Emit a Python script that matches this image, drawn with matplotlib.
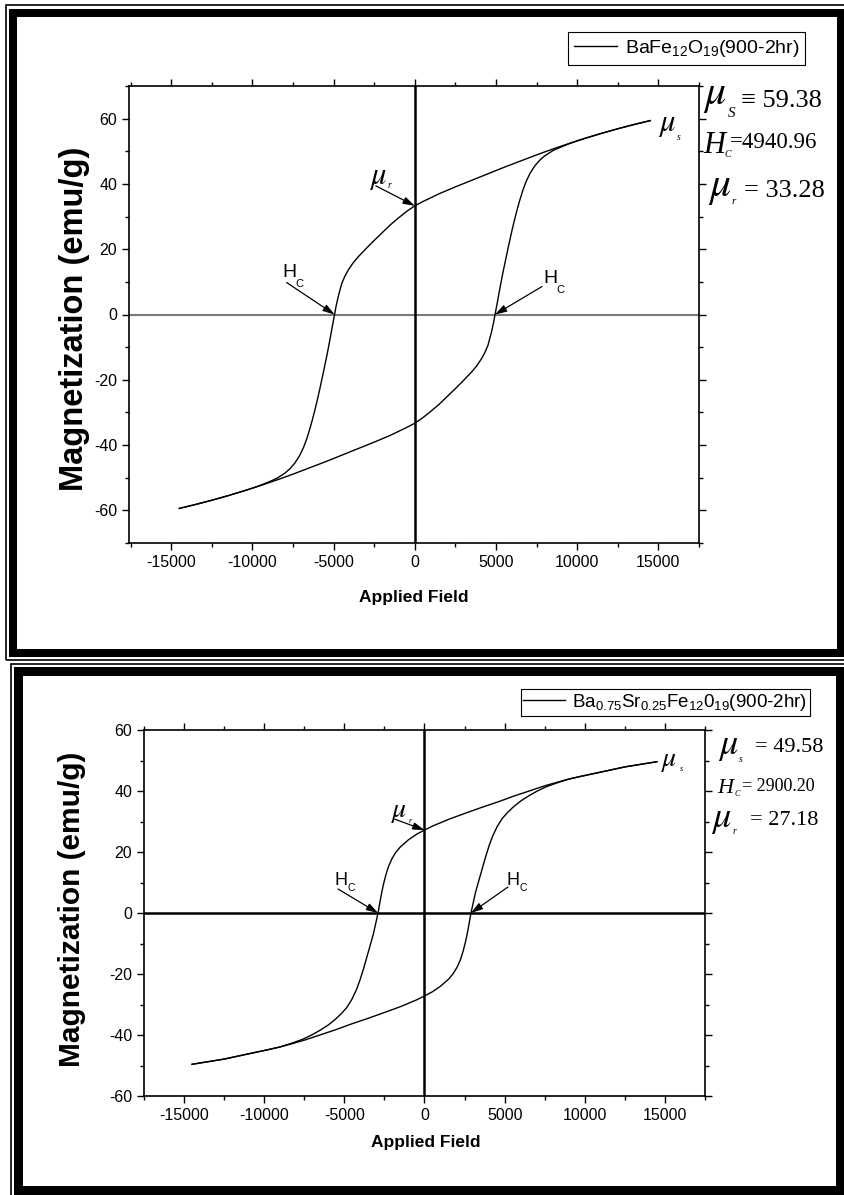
import matplotlib
matplotlib.use("Agg")
import matplotlib.pyplot as plt
from matplotlib.patches import Rectangle
from matplotlib.ticker import MultipleLocator

W, H = 845, 1195

# ---------------- data ----------------
# Panel 1: BaFe12O19 (900-2hr)  -- descending (upper) branch
top_field_desc = [14500, 13500, 12500, 11500, 10500, 9500, 8500, 7500, 6500, 5500,
                  4500, 3500, 2500, 1500, 500, 0, -500, -1000, -1500, -2000,
                  -2500, -3000, -3500, -3800, -4100, -4300, -4500, -4700, -4850, -4941,
                  -5100, -5250, -5400, -5550, -5700, -5850, -6000, -6150, -6300, -6450,
                  -6650, -6850, -7100, -7400, -7700, -8000, -8500, -9000, -9500, -10000,
                  -10500, -11500, -12500, -13500, -14500]
top_mag_desc = [59.4, 58.2, 56.9, 55.5, 54.0, 52.4, 50.7, 48.9, 47.0, 45.1,
                43.1, 41.1, 39.1, 37.0, 34.6, 33.3, 31.6, 29.6, 27.5, 25.1,
                22.7, 20.2, 17.6, 15.8, 13.6, 11.8, 9.5, 5.8, 2.5, 0.0,
                -4.2, -8.3, -12.2, -15.8, -19.3, -22.8, -26.1, -29.2, -32.1, -34.8,
                -38.0, -40.7, -43.3, -45.6, -47.3, -48.6, -50.2, -51.3, -52.3, -53.2,
                -54.0, -55.5, -56.9, -58.2, -59.4]
# ascending (lower) branch
top_field_asc = [-14500, -13500, -12500, -11500, -10500, -9500, -8500, -7500, -6500, -5500,
                 -4500, -3500, -2500, -1500, -500, 0, 500, 1000, 1500, 2000,
                 2500, 3000, 3500, 3800, 4100, 4300, 4500, 4700, 4850, 4941,
                 5100, 5250, 5400, 5550, 5700, 5850, 6000, 6150, 6300, 6450,
                 6650, 6850, 7100, 7400, 7700, 8000, 8500, 9000, 9500, 10000,
                 10500, 11500, 12500, 13500, 14500]
top_mag_asc = [-59.4, -58.2, -56.9, -55.5, -54.0, -52.4, -50.7, -48.9, -47.0, -45.1,
               -43.1, -41.1, -39.1, -37.0, -34.6, -33.3, -31.6, -29.6, -27.5, -25.1,
               -22.7, -20.2, -17.6, -15.8, -13.6, -11.8, -9.5, -5.8, -2.5, 0.0,
               4.2, 8.3, 12.2, 15.8, 19.3, 22.8, 26.1, 29.2, 32.1, 34.8,
               38.0, 40.7, 43.3, 45.6, 47.3, 48.6, 50.2, 51.3, 52.3, 53.2,
               54.0, 55.5, 56.9, 58.2, 59.4]
top_label = "BaFe$_{12}$O$_{19}$(900-2hr)"
top_Ms, top_Hc, top_Mr = 59.38, 4940.96, 33.28

# Panel 2: Ba0.75Sr0.25Fe12O19 (900-2hr) -- descending (upper) branch
bot_field_desc = [14500, 12500, 11000, 9750, 9000, 8300, 7500, 6700, 5500, 4625,
                  3500, 2540, 1500, 1000, 500, 0, -500, -1000, -1520, -1800,
                  -2040, -2250, -2420, -2570, -2710, -2900, -3050, -3190, -3400, -3600,
                  -3800, -4020, -4250, -4540, -4850, -5170, -5550, -6000, -6500, -7040,
                  -7600, -8290, -9000, -9750, -11000, -12500, -14500]
bot_mag_desc = [49.6, 47.9, 46.2, 44.8, 43.9, 42.9, 41.7, 40.3, 38.2, 36.5,
                34.5, 32.7, 30.7, 29.6, 28.5, 27.2, 25.8, 24.0, 21.6, 19.8,
                17.7, 15.2, 12.3, 9.2, 5.6, 0.0, -3.6, -6.9, -10.8, -14.5,
                -18.2, -21.9, -25.2, -28.4, -31.0, -32.9, -34.8, -36.7, -38.4, -40.0,
                -41.4, -42.7, -43.9, -44.8, -46.2, -47.9, -49.6]
# ascending (lower) branch
bot_field_asc = [-14500, -12500, -11000, -9750, -9000, -8300, -7500, -6700, -5500, -4625,
                 -3500, -2540, -1500, -1000, -500, 0, 500, 1000, 1520, 1800,
                 2040, 2250, 2420, 2570, 2710, 2900, 3050, 3190, 3400, 3600,
                 3800, 4020, 4250, 4540, 4850, 5170, 5550, 6000, 6500, 7040,
                 7600, 8290, 9000, 9750, 11000, 12500, 14500]
bot_mag_asc = [-49.6, -47.9, -46.2, -44.8, -43.9, -42.9, -41.7, -40.3, -38.2, -36.5,
               -34.5, -32.7, -30.7, -29.6, -28.5, -27.2, -25.8, -24.0, -21.6, -19.8,
               -17.7, -15.2, -12.3, -9.2, -5.6, 0.0, 3.6, 6.9, 10.8, 14.5,
               18.2, 21.9, 25.2, 28.4, 31.0, 32.9, 34.8, 36.7, 38.4, 40.0,
               41.4, 42.7, 43.9, 44.8, 46.2, 47.9, 49.6]
bot_label = "Ba$_{0.75}$Sr$_{0.25}$Fe$_{12}$0$_{19}$(900-2hr)"
bot_Ms, bot_Hc, bot_Mr = 49.58, 2900.20, 27.18

x_ticks = [-15000, -10000, -5000, 0, 5000, 10000, 15000]

# ---------------- style ----------------
plt.rcParams["font.family"] = ["Liberation Sans", "DejaVu Sans"]
plt.rcParams["mathtext.fontset"] = "custom"
plt.rcParams["mathtext.rm"] = "Liberation Sans"
plt.rcParams["mathtext.it"] = "Liberation Sans:italic"
plt.rcParams["mathtext.bf"] = "Liberation Sans:bold"
plt.rcParams["axes.unicode_minus"] = False

SERIF = ["Liberation Serif", "DejaVu Serif"]

fig = plt.figure(figsize=(W / 100, H / 100), dpi=100, facecolor="white")


def px_axes(l, t, r, b):
    return fig.add_axes([l / W, 1 - b / H, (r - l) / W, (b - t) / H])


def ftxt(x, y, s, **kw):
    kw.setdefault("va", "baseline")
    kw.setdefault("ha", "left")
    return fig.text(x / W, 1 - y / H, s, **kw)


def rect(x0, y0, x1, y1, **kw):
    fig.add_artist(Rectangle((x0 / W, 1 - y1 / H), (x1 - x0) / W, (y1 - y0) / H,
                             transform=fig.transFigure, **kw))


def band(x0, y0, x1, y1, t):
    rect(x0, y0, x1, y0 + t, color="black", lw=0)
    rect(x0, y1 - t, x1, y1, color="black", lw=0)
    rect(x0, y0, x0 + t, y1, color="black", lw=0)
    rect(x1 - t, y0, x1, y1, color="black", lw=0)


# frames
rect(6.5, 5, 852, 660, fill=False, ec="black", lw=1.2)
band(9, 9, 845, 657, 8)
rect(11.5, 663.5, 852, 1200, fill=False, ec="black", lw=1.2)
band(14, 667, 845, 1195, 9)


def style_axes(ax, xlim, ylim, ymaj, ymin):
    ax.set_xlim(*xlim)
    ax.set_ylim(*ylim)
    ax.set_xticks(x_ticks)
    ax.xaxis.set_minor_locator(MultipleLocator(2500))
    ax.yaxis.set_major_locator(MultipleLocator(ymaj))
    ax.yaxis.set_minor_locator(MultipleLocator(ymin))
    for s in ax.spines.values():
        s.set_linewidth(1.2)
    ax.tick_params(which="both", direction="out", top=True, right=True,
                   labeltop=False, labelright=False, width=1.0, labelsize=11.5)
    ax.tick_params(which="major", length=5)
    ax.tick_params(which="minor", length=3)


def arrow(ax, xy, off):
    ax.annotate("", xy=xy, xytext=off, textcoords="offset pixels",
                arrowprops=dict(arrowstyle="-|>,head_length=0.7,head_width=0.22",
                                color="black", lw=0.9, shrinkA=0, shrinkB=0))


# ================= top panel =================
ax1 = px_axes(129, 86, 699, 543)
ax1.axhline(0, color="#7a7a7a", lw=1.5, zorder=1)
ax1.axvline(0, color="black", lw=1.8, zorder=1)
l1, = ax1.plot(top_field_desc, top_mag_desc, color="black", lw=1.0)
ax1.plot(top_field_asc, top_mag_asc, color="black", lw=1.0)
style_axes(ax1, (-17600, 17500), (-70, 70), 20, 10)
ax1.set_xlabel("Applied Field", fontsize=12.5, fontweight="bold")
ax1.xaxis.set_label_coords(0.5, -0.12)
ax1.xaxis.label.set_va("center")
ax1.set_ylabel("Magnetization (emu/g)", fontsize=23.5, fontweight="bold")
ax1.yaxis.set_label_coords(-0.095, 0.49)
ax1.yaxis.label.set_va("center")
leg1 = ax1.legend([l1], [top_label], loc="upper right", fontsize=14,
                  bbox_to_anchor=(805 / W, 1 - 32 / H), bbox_transform=fig.transFigure,
                  frameon=True, fancybox=False, edgecolor="black", framealpha=1,
                  handlelength=2.2, borderpad=0.3, handletextpad=0.4, borderaxespad=0)
leg1.get_frame().set_linewidth(0.8)

arrow(ax1, (-top_Hc, 0), (-48, 32))
arrow(ax1, (top_Hc, 0), (47, 28))
arrow(ax1, (0, top_Mr), (-39, 20))

ftxt(282, 277, "H", fontsize=14)
ftxt(295, 287, "C", fontsize=8)
ftxt(543, 283, "H", fontsize=14)
ftxt(556, 293, "C", fontsize=8)
ftxt(369, 184, r"$\mu$", fontsize=22, math_fontfamily="stix")
ftxt(388, 188, "r", fontsize=7, family=SERIF, style="italic")
ftxt(658, 131, r"$\mu$", fontsize=22, math_fontfamily="stix")
ftxt(677, 140, "s", fontsize=7, family=SERIF, style="italic")

# values at right
ftxt(703, 104, r"$\mu$", fontsize=30, math_fontfamily="stix")
ftxt(728, 117, "S", fontsize=11, family=SERIF, style="italic")
ftxt(741, 107, "\u2261 %.2f" % top_Ms, fontsize=19, family=SERIF)
ftxt(703, 153, "H", fontsize=22, family=SERIF, style="italic")
ftxt(724, 157, "C", fontsize=7, family=SERIF, style="italic")
ftxt(730, 148, "=%.2f" % top_Hc, fontsize=16.5, family=SERIF)
ftxt(708, 196, r"$\mu$", fontsize=30, math_fontfamily="stix")
ftxt(732, 204, "r", fontsize=8, family=SERIF, style="italic")
ftxt(744, 197, "= %.2f" % top_Mr, fontsize=19, family=SERIF)

# ================= bottom panel =================
ax2 = px_axes(144, 730, 705, 1096)
ax2.axhline(0, color="black", lw=1.8, zorder=1)
ax2.axvline(0, color="black", lw=1.8, zorder=1)
l2, = ax2.plot(bot_field_desc, bot_mag_desc, color="black", lw=1.0)
ax2.plot(bot_field_asc, bot_mag_asc, color="black", lw=1.0)
style_axes(ax2, (-17500, 17500), (-60, 60), 20, 10)
ax2.set_xlabel("Applied Field", fontsize=12.5, fontweight="bold")
ax2.xaxis.set_label_coords(0.503, -0.128)
ax2.xaxis.label.set_va("center")
ax2.set_ylabel("Magnetization (emu/g)", fontsize=21.5, fontweight="bold")
ax2.yaxis.set_label_coords(-0.128, 0.51)
ax2.yaxis.label.set_va("center")
leg2 = ax2.legend([l2], [bot_label], loc="upper right", fontsize=13.5,
                  bbox_to_anchor=(810 / W, 1 - 689 / H), bbox_transform=fig.transFigure,
                  frameon=True, fancybox=False, edgecolor="black", framealpha=1,
                  handlelength=2.2, borderpad=0.15, handletextpad=0.4, borderaxespad=0)
leg2.get_frame().set_linewidth(0.8)

arrow(ax2, (-bot_Hc, 0), (-40, 24))
arrow(ax2, (bot_Hc, 0), (37, 26))
arrow(ax2, (0, bot_Mr), (-30, 11))

ftxt(335, 885, "H", fontsize=13)
ftxt(348, 891, "C", fontsize=7.5)
ftxt(507, 885, "H", fontsize=13)
ftxt(520, 891, "C", fontsize=7.5)
ftxt(391, 817, r"$\mu$", fontsize=20, math_fontfamily="stix")
ftxt(409, 823, "r", fontsize=6, family=SERIF, style="italic")
ftxt(661, 766, r"$\mu$", fontsize=20, math_fontfamily="stix")
ftxt(680, 771, "s", fontsize=6, family=SERIF, style="italic")

ftxt(718, 754, r"$\mu$", fontsize=26, math_fontfamily="stix")
ftxt(739, 762, "s", fontsize=7, family=SERIF, style="italic")
ftxt(755, 752, "= %.2f" % bot_Ms, fontsize=16, family=SERIF)
ftxt(717, 793, "H", fontsize=16, family=SERIF, style="italic")
ftxt(735, 796, "C", fontsize=6, family=SERIF, style="italic")
ftxt(742, 791, "= %.2f" % bot_Hc, fontsize=13, family=SERIF)
ftxt(711, 827, r"$\mu$", fontsize=26, math_fontfamily="stix")
ftxt(733, 834, "r", fontsize=7, family=SERIF, style="italic")
ftxt(750, 825, "= %.2f" % bot_Mr, fontsize=16, family=SERIF)

fig.savefig("out.png", dpi=100, facecolor="white")
